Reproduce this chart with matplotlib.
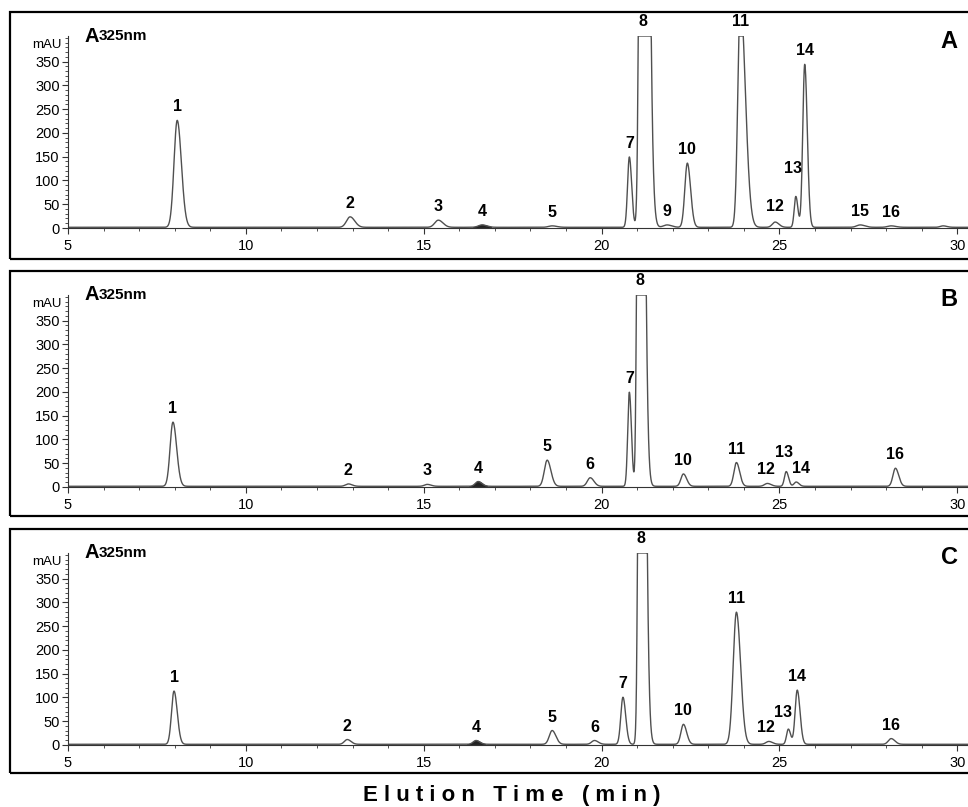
import numpy as np
import matplotlib.pyplot as plt
from matplotlib.patches import Rectangle
from matplotlib.ticker import MultipleLocator

plt.rcParams['font.family'] = ['Liberation Sans', 'DejaVu Sans']

# peak tables: label, retention time (min), height (mAU), sigma (min)
# clipped peaks (8, 11) go off scale, the height is only a guess
a_labels = ['1', '2', '3', '4', '5', '7', '8', '9', '10', '11', '12', '13', '14', '15', '16', '']
a_times = [8.07, 12.93, 15.41, 16.64, 18.61, 20.78, 21.15, 21.84, 22.41, 23.9, 24.88, 25.46, 25.71, 27.27, 28.14, 29.6]
a_heights = [225, 22, 15, 5, 3, 148, 3300, 5, 135, 480, 11, 65, 343, 5, 3, 3]
a_sigmas = [0.09, 0.1, 0.1, 0.1, 0.1, 0.05, 0.06, 0.1, 0.07, 0.07, 0.08, 0.045, 0.055, 0.1, 0.1, 0.08]

b_labels = ['1', '2', '3', '4', '5', '6', '7', '8', '10', '11', '12', '13', '14', '16']
b_times = [7.95, 12.88, 15.1, 16.53, 18.47, 19.68, 20.78, 21.07, 22.3, 23.79, 24.66, 25.19, 25.47, 28.26]
b_heights = [135, 5, 4, 10, 55, 18, 198, 2330, 26, 50, 6, 31, 9, 38]
b_sigmas = [0.08, 0.08, 0.08, 0.08, 0.08, 0.08, 0.045, 0.05, 0.07, 0.07, 0.08, 0.05, 0.06, 0.07]

c_labels = ['1', '2', '4', '5', '6', '7', '8', '10', '11', '12', '13', '14', '16']
c_times = [7.98, 12.85, 16.47, 18.61, 19.8, 20.6, 21.1, 22.3, 23.79, 24.7, 25.25, 25.5, 28.14]
c_heights = [112, 10, 8, 29, 8, 99, 2330, 42, 278, 6, 32, 114, 12]
c_sigmas = [0.07, 0.08, 0.08, 0.08, 0.08, 0.06, 0.05, 0.07, 0.09, 0.08, 0.05, 0.06, 0.08]

panels = [
    ('A', a_labels, a_times, a_heights, a_sigmas),
    ('B', b_labels, b_times, b_heights, b_sigmas),
    ('C', c_labels, c_times, c_heights, c_sigmas),
]

# label nudges (dx in min, extra dy in mAU) for crowded spots
nudges = {
    'A': {'13': (-0.08, 30), '12': (0, 5)},
    'B': {'13': (-0.05, 12), '14': (0.14, 0), '12': (-0.05, 0)},
    'C': {'13': (-0.14, 6), '12': (-0.08, 0)},
}

Y_TOP = 404      # detector range, peaks above are flat-topped
BASELINE = 1.5
TAIL = 1.3       # right side broader than left
TAIL_BIG = 2.0   # overloaded peaks tail more

W, H = 968, 807
fig = plt.figure(figsize=(W / 100, H / 100), dpi=100)

# pixel layout of each panel: frame top, frame bottom, zero line
frames = [(12, 259, 228), (271, 516, 487), (529, 773, 745)]
t = np.linspace(5, 30.3, 6000)

for (name, labels, times, heights, sigmas), (ftop, fbot, y0) in zip(panels, frames):
    fig.patches.append(Rectangle((10 / W, 1 - fbot / H), 1.0, (fbot - ftop) / H,
                                 transform=fig.transFigure, fill=False,
                                 edgecolor='black', linewidth=1.6))
    ax_h = 192
    ax = fig.add_axes([68 / W, 1 - y0 / H, 1 - 68 / W, ax_h / H])

    trace = np.full_like(t, BASELINE)
    for tr, h, s in zip(times, heights, sigmas):
        tail = TAIL_BIG if h > Y_TOP else TAIL
        sig = np.where(t < tr, s, s * tail)
        trace += h * np.exp(-0.5 * ((t - tr) / sig) ** 2)
    trace = np.minimum(trace, Y_TOP)
    ax.plot(t, trace, color='#505050', linewidth=1.0)

    # peak 4 is drawn filled in the original
    i4 = labels.index('4')
    m = np.abs(t - times[i4]) < 0.25
    ax.fill_between(t[m], BASELINE, trace[m], color='#222222')

    for lab, tr, h in zip(labels, times, heights):
        if not lab:
            continue
        dx, dy = nudges[name].get(lab, (0, 0))
        ax.text(tr + dx, min(h, Y_TOP) + 14 + dy, lab, ha='center', va='bottom',
                fontsize=11.5, fontweight='bold', clip_on=False)

    ax.set_xlim(5, 30.3)
    ax.set_ylim(0, Y_TOP)
    for sp in ['top', 'right']:
        ax.spines[sp].set_visible(False)
    for sp in ['left', 'bottom']:
        ax.spines[sp].set_linewidth(0.8)
        ax.spines[sp].set_color('#333333')
    ax.set_xticks([5, 10, 15, 20, 25, 30])
    ax.xaxis.set_minor_locator(MultipleLocator(1))
    ax.set_yticks(np.arange(0, 351, 50))
    ax.yaxis.set_minor_locator(MultipleLocator(10))
    ax.tick_params(axis='both', which='major', labelsize=10.5, length=4, width=0.8, color='#333333')
    ax.tick_params(axis='both', which='minor', length=2, width=0.6, color='#333333')
    ax.tick_params(axis='x', pad=4)
    ax.tick_params(axis='y', pad=2)
    ax.patch.set_alpha(0)

    ax.text(-0.007, 385, 'mAU', transform=ax.get_yaxis_transform(), ha='right',
            va='center', fontsize=9.5)
    ta = ax.text(0.018, 1.0, 'A', transform=ax.transAxes, ha='left', va='center',
                 fontsize=14.5, fontweight='bold')
    ax.annotate('325nm', xy=(1, 0.12), xycoords=ta, ha='left', va='bottom',
                fontsize=11, fontweight='bold')
    fig.text(949 / W, 1 - (ftop + 29) / H, name, ha='center', va='center',
             fontsize=17, fontweight='bold')

fig.text(512 / W, 1 - 795 / H, ' '.join('Elution') + '   ' + ' '.join('Time') + '   ' + ' '.join('(min)'),
         ha='center', va='center', fontsize=16, fontweight='bold')

fig.savefig('out.png', dpi=100)
